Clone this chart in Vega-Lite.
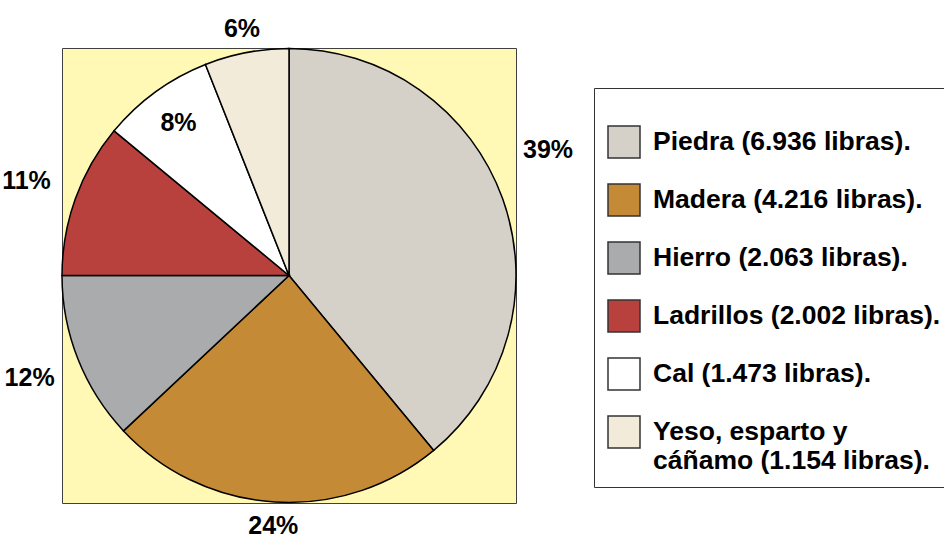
{
  "$schema": "https://vega.github.io/schema/vega-lite/v6.json",
  "width": 454,
  "height": 455,
  "autosize": {"type": "none"},
  "padding": {"left": 62, "top": 48, "right": 428, "bottom": 36},
  "background": "white",
  "view": {"fill": "#FFF9B5", "stroke": "#404040", "strokeWidth": 1},
  "data": {
    "values": [
      {"material": "Piedra", "leyenda": "Piedra (6.936 libras).", "libras": 6936, "pct": 0.39},
      {"material": "Madera", "leyenda": "Madera (4.216 libras).", "libras": 4216, "pct": 0.24},
      {"material": "Hierro", "leyenda": "Hierro (2.063 libras).", "libras": 2063, "pct": 0.12},
      {"material": "Ladrillos", "leyenda": "Ladrillos (2.002 libras).", "libras": 2002, "pct": 0.11},
      {"material": "Cal", "leyenda": "Cal (1.473 libras).", "libras": 1473, "pct": 0.08},
      {"material": "Yeso", "leyenda": "Yeso, esparto y cáñamo (1.154 libras).", "libras": 1154, "pct": 0.06}
    ]
  },
  "encoding": {
    "theta": {"field": "pct", "type": "quantitative", "stack": true},
    "order": {"field": "pct", "sort": "descending"}
  },
  "layer": [
    {
      "mark": {"type": "arc", "radius": 227, "stroke": "black", "strokeWidth": 1.5},
      "encoding": {
        "color": {
          "field": "leyenda",
          "type": "nominal",
          "scale": {
            "domain": ["Piedra (6.936 libras).", "Madera (4.216 libras).", "Hierro (2.063 libras).", "Ladrillos (2.002 libras).", "Cal (1.473 libras).", "Yeso, esparto y cáñamo (1.154 libras)."],
            "range": ["#D6D1C8", "#C48A35", "#AAABAD", "#B8403D", "#FFFFFF", "#F3EBDA"]
          },
          "legend": {
            "orient": "none",
            "legendX": 532,
            "legendY": 40,
            "title": " ",
            "titleFontSize": 14,
            "titlePadding": 10,
            "padding": 13,
            "fillColor": "white",
            "strokeColor": "#333333",
            "symbolType": "square",
            "symbolSize": 1024,
            "symbolStrokeColor": "#333333",
            "symbolStrokeWidth": 1.5,
            "symbolOpacity": 1,
            "labelFont": "Liberation Sans",
            "labelFontSize": 26.5,
            "labelFontWeight": "bold",
            "labelColor": "black",
            "labelOffset": 12,
            "labelLimit": 600,
            "rowPadding": 20,
            "labelExpr": "datum.label == 'Yeso, esparto y cáñamo (1.154 libras).' ? ['Yeso, esparto y', 'cáñamo (1.154 libras).'] : datum.label"
          }
        }
      }
    },
    {
      "mark": {"type": "text", "radius": 279, "font": "Liberation Sans", "fontSize": 25, "fontWeight": "bold", "color": "black", "align": "center", "baseline": "middle"},
      "encoding": {
        "text": {"condition": {"test": "datum.material == 'Hierro' || datum.material == 'Ladrillos'", "field": "pct", "type": "quantitative", "format": ".0%"}, "value": ""}
      }
    },
    {
      "mark": {"type": "text", "radius": 251, "font": "Liberation Sans", "fontSize": 25, "fontWeight": "bold", "color": "black", "align": "center", "baseline": "middle"},
      "encoding": {
        "text": {"condition": {"test": "datum.material == 'Madera' || datum.material == 'Yeso'", "field": "pct", "type": "quantitative", "format": ".0%"}, "value": ""}
      }
    },
    {
      "mark": {"type": "text", "radius": 188, "font": "Liberation Sans", "fontSize": 25, "fontWeight": "bold", "color": "black", "align": "center", "baseline": "middle"},
      "encoding": {
        "text": {"condition": {"test": "datum.material == 'Cal'", "field": "pct", "type": "quantitative", "format": ".0%"}, "value": ""}
      }
    },
    {
      "mark": {"type": "text", "radius": 288, "thetaOffset": -0.107, "font": "Liberation Sans", "fontSize": 25, "fontWeight": "bold", "color": "black", "align": "center", "baseline": "middle"},
      "encoding": {
        "text": {"condition": {"test": "datum.material == 'Piedra'", "field": "pct", "type": "quantitative", "format": ".0%"}, "value": ""}
      }
    }
  ],
  "config": {
    "view": {"fill": "#FFF9B5", "stroke": "#404040", "strokeWidth": 1}
  }
}
